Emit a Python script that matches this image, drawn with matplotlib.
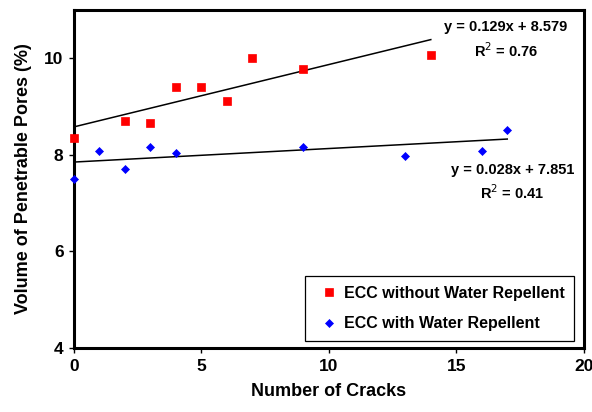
import numpy as np
import matplotlib
matplotlib.use('Agg')
import matplotlib.pyplot as plt

plt.rcParams['font.family'] = ['Liberation Sans', 'DejaVu Sans']

# ECC without water repellent
cracks_plain = [0, 2, 3, 4, 5, 6, 7, 9, 14]
pores_plain  = [8.34, 8.71, 8.65, 9.41, 9.41, 9.11, 10.0, 9.77, 10.06]

# ECC with water repellent
cracks_wr = [0, 1, 2, 3, 4, 9, 13, 16, 17]
pores_wr  = [7.49, 8.08, 7.70, 8.17, 8.03, 8.17, 7.97, 8.09, 8.51]

# linear trend lines (slope, intercept, R^2)
fit_plain = (0.129, 8.579, 0.76)
fit_wr    = (0.028, 7.851, 0.41)

fig = plt.figure(figsize=(5.92, 4.12), dpi=100)
ax = fig.add_axes([0.125, 0.155, 0.861, 0.821])

ax.plot(cracks_plain, pores_plain, 's', color='#ff0000', markersize=6.3, mew=0.5,
        label='ECC without Water Repellent', zorder=3, clip_on=False)
ax.plot(cracks_wr, pores_wr, 'D', color='#0000ff', markersize=4.2, mew=0.5,
        label='ECC with Water Repellent', zorder=3, clip_on=False)

xx = np.array([0, max(cracks_plain)])
ax.plot(xx, fit_plain[0]*xx + fit_plain[1], color='k', lw=1.1, zorder=2)
xx = np.array([0, max(cracks_wr)])
ax.plot(xx, fit_wr[0]*xx + fit_wr[1], color='k', lw=1.1, zorder=2)

eq_kw = dict(ha='center', va='center', fontsize=10.5, fontweight='bold')
ax.text(16.95, 10.65, 'y = %.3fx + %.3f' % fit_plain[:2], **eq_kw)
ax.text(16.95, 10.16, 'R$^2$ = %.2f' % fit_plain[2], **eq_kw)
ax.text(17.2, 7.68, 'y = %.3fx + %.3f' % fit_wr[:2], **eq_kw)
ax.text(17.2, 7.22, 'R$^2$ = %.2f' % fit_wr[2], **eq_kw)

ax.set_xlim(0, 20)
ax.set_ylim(4, 11)
ax.set_xticks([0, 5, 10, 15, 20])
ax.set_yticks([4, 6, 8, 10])
ax.tick_params(direction='out', length=3.5, width=1, labelsize=12.5, pad=4)
for lab in ax.get_xticklabels() + ax.get_yticklabels():
    lab.set_fontweight('bold')
for sp in ax.spines.values():
    sp.set_linewidth(2.2)

ax.set_xlabel('Number of Cracks', fontsize=13, fontweight='bold', labelpad=7)
ax.set_ylabel('Volume of Penetrable Pores (%)', fontsize=13, fontweight='bold', labelpad=9)

leg = ax.legend(loc='lower right', bbox_to_anchor=(0.981, 0.022), fontsize=11.5,
                handlelength=1.8, handletextpad=0.05, borderpad=0.6,
                labelspacing=0.95, fancybox=False, framealpha=1,
                edgecolor='k', borderaxespad=0)
leg.get_frame().set_linewidth(0.9)
for t in leg.get_texts():
    t.set_fontweight('bold')

fig.savefig('out.png', dpi=100)
